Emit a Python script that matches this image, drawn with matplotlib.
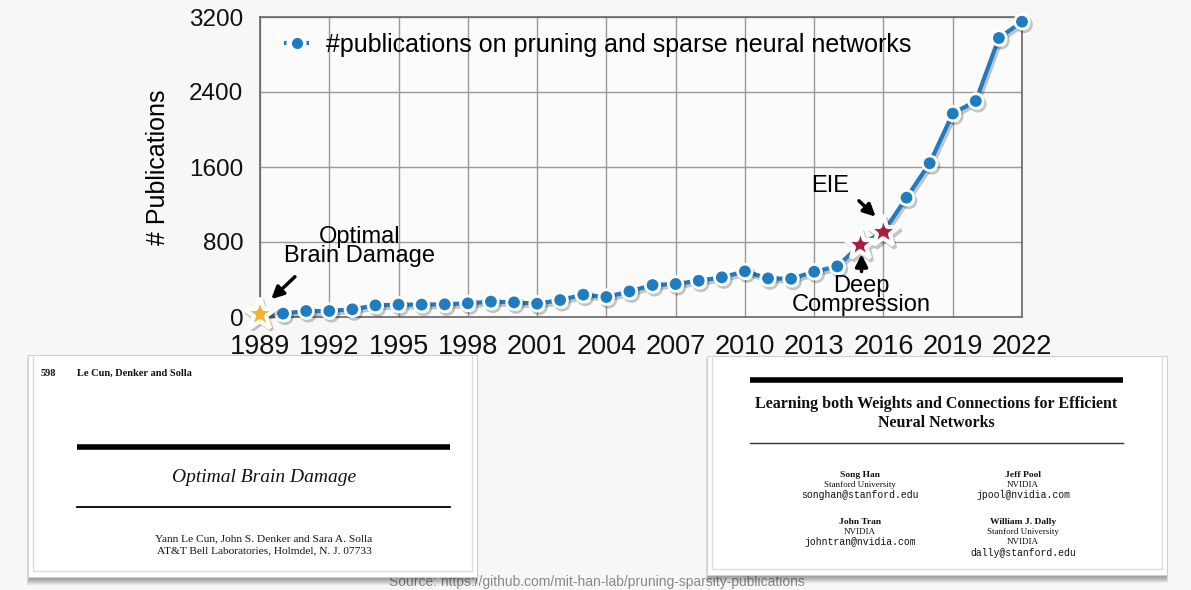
import matplotlib
matplotlib.use('Agg')
import matplotlib.pyplot as plt
import matplotlib.patheffects as pe
from matplotlib.lines import Line2D
from matplotlib.patches import Rectangle

# данные
years = list(range(1989, 2023))
pubs = [30, 36, 64, 64, 82, 124, 132, 132, 135, 146, 164, 156, 142, 181, 238,
        213, 273, 341, 352, 387, 423, 487, 412, 408, 483, 540, 771, 907, 1273,
        1640, 2170, 2304, 2976, 3150]
x_ticks = list(range(1989, 2023, 3))
y_ticks = [0, 800, 1600, 2400, 3200]
star_yellow = [1989]
star_red = [2015, 2016]
legend_label = '#publications on pruning and sparse neural networks'
source_text = 'Source: https://github.com/mit-han-lab/pruning-sparsity-publications'

BLUE = '#1f7cc1'
W, H = 1191, 590
SANS = ['Liberation Sans', 'DejaVu Sans']
SERIF = ['Liberation Serif', 'DejaVu Serif']
MONO = ['Liberation Mono', 'DejaVu Sans Mono']

plt.rcParams['font.family'] = SANS

fig = plt.figure(figsize=(W / 100, H / 100), dpi=100, facecolor='#f7f7f7')
ax = fig.add_axes([260 / W, 1 - 317 / H, (1022 - 260) / W, (317 - 17) / H])
ax.set_facecolor('#fbfbfb')

shadow = [pe.SimpleLineShadow(offset=(1.5, -2), alpha=0.22, shadow_color='k'), pe.Normal()]

ax.plot(years, pubs, color=BLUE, lw=3, zorder=3, clip_on=False, path_effects=shadow)

special = star_yellow + star_red
cx = [y for y in years if y not in special]
cy = [p for y, p in zip(years, pubs) if y not in special]
ax.plot(cx, cy, 'o', ms=10.5, mfc=BLUE, mec='white', mew=2, ls='none', zorder=4,
        clip_on=False, path_effects=shadow)

sy = [pubs[years.index(y)] for y in star_yellow]
ax.plot(star_yellow, sy, marker='*', ms=24, mfc='#f2b230', mec='white', mew=3,
        ls='none', zorder=5, clip_on=False, path_effects=shadow)
sr = [pubs[years.index(y)] for y in star_red]
ax.plot(star_red, sr, marker='*', ms=24, mfc='#a5203f', mec='white', mew=3,
        ls='none', zorder=5, clip_on=False, path_effects=shadow)

ax.set_xlim(1989, 2022)
ax.set_ylim(0, 3200)
ax.set_xticks(x_ticks)
ax.set_yticks(y_ticks)
ax.tick_params(axis='both', length=0, colors='#111111')
ax.tick_params(axis='x', pad=12, labelsize=19.5)
ax.tick_params(axis='y', pad=12, labelsize=17.5)
ax.grid(True, color='#999999', lw=1)
ax.set_axisbelow(True)
for s in ax.spines.values():
    s.set_color('#666666')
    s.set_linewidth(1.2)
ax.set_ylabel('# Publications', fontsize=18, labelpad=14)

handle = Line2D([], [], color=BLUE, lw=3, ls=(0, (0.6, 1.2)), marker='o', ms=10,
                mfc=BLUE, mec='white', mew=2)
ax.legend([handle], [legend_label], loc='upper left', frameon=False, fontsize=18,
          handlelength=1.1, handletextpad=0.6, borderaxespad=0.3,
          bbox_to_anchor=(0.008, 1.005))

arrow = dict(arrowstyle='-|>', color='black', lw=2.5, mutation_scale=18)
ax.text(1993.3, 755, 'Optimal\nBrain Damage', ha='center', va='center',
        fontsize=17, linespacing=0.8)
ax.annotate('', xy=(1989.4, 170), xytext=(1990.6, 450), arrowprops=arrow)
ax.text(2013.7, 1400, 'EIE', ha='center', va='center', fontsize=17)
ax.annotate('', xy=(2015.75, 1050), xytext=(2014.85, 1260), arrowprops=arrow)
ax.text(2015.05, 228, 'Deep\nCompression', ha='center', va='center',
        fontsize=17, linespacing=0.8)
ax.annotate('', xy=(2015.05, 700), xytext=(2015.05, 455), arrowprops=arrow)

# слой со снимками статей
ov = fig.add_axes([0, 0, 1, 1], zorder=5)
ov.set_xlim(0, W)
ov.set_ylim(H, 0)
ov.axis('off')
ov.patch.set_alpha(0)

ov.text(597, 589, source_text, fontsize=10, color='#888888', ha='center',
        va='bottom', zorder=0)


def paper(x0, y0, x1, y1):
    for i in range(7):
        ov.add_patch(Rectangle((x0 - 1 + i * 0.3, y0 + 2), x1 - x0 + 2 - i * 0.6,
                               y1 - y0 + 6 - i, fc='black', ec='none', alpha=0.06))
    ov.add_patch(Rectangle((x0, y0), x1 - x0, y1 - y0, fc='white', ec='#d0d0d0', lw=0.8))
    ov.plot([x0 + 5, x0 + 5, x1 - 5, x1 - 5], [y0, y1 - 6, y1 - 6, y0],
            color='#dddddd', lw=1)


def t(x, y, s, size, fam=SERIF, **kw):
    ov.text(x, y, s, fontsize=size, family=fam, ha=kw.pop('ha', 'center'),
            va='center', color='#111111', **kw)


# Optimal Brain Damage
paper(28, 355, 477, 577)
t(41, 373, '598', 7.5, ha='left', weight='bold')
t(77, 373, 'Le Cun, Denker and Solla', 7.5, ha='left', weight='bold')
ov.plot([77, 450], [447, 447], color='black', lw=4, solid_capstyle='butt')
t(264, 477, 'Optimal Brain Damage', 14, style='italic')
ov.plot([77, 450], [507, 507], color='black', lw=1.3)
t(264, 539, 'Yann Le Cun, John S. Denker and Sara A. Solla', 8.2)
t(264, 551, 'AT&T Bell Laboratories, Holmdel, N. J. 07733', 8.2)

# Learning both Weights and Connections
paper(707, 356, 1167, 575)
ov.plot([750, 1123], [380, 380], color='black', lw=4, solid_capstyle='butt')
t(936, 404, 'Learning both Weights and Connections for Efficient', 11.5, weight='bold')
t(936, 423, 'Neural Networks', 11.5, weight='bold')
ov.plot([750, 1123], [443, 443], color='#333333', lw=1)
t(860, 475, 'Song Han', 6.8, weight='bold')
t(860, 485, 'Stanford University', 6.5)
t(860, 495, 'songhan@stanford.edu', 7, fam=MONO)
t(860, 522, 'John Tran', 6.8, weight='bold')
t(860, 532, 'NVIDIA', 6.5)
t(860, 542, 'johntran@nvidia.com', 7, fam=MONO)
t(1023, 475, 'Jeff Pool', 6.8, weight='bold')
t(1023, 485, 'NVIDIA', 6.5)
t(1023, 495, 'jpool@nvidia.com', 7, fam=MONO)
t(1023, 522, 'William J. Dally', 6.8, weight='bold')
t(1023, 532, 'Stanford University', 6.5)
t(1023, 542, 'NVIDIA', 6.5)
t(1023, 553, 'dally@stanford.edu', 7, fam=MONO)

fig.savefig('out.png', dpi=100, facecolor=fig.get_facecolor())
